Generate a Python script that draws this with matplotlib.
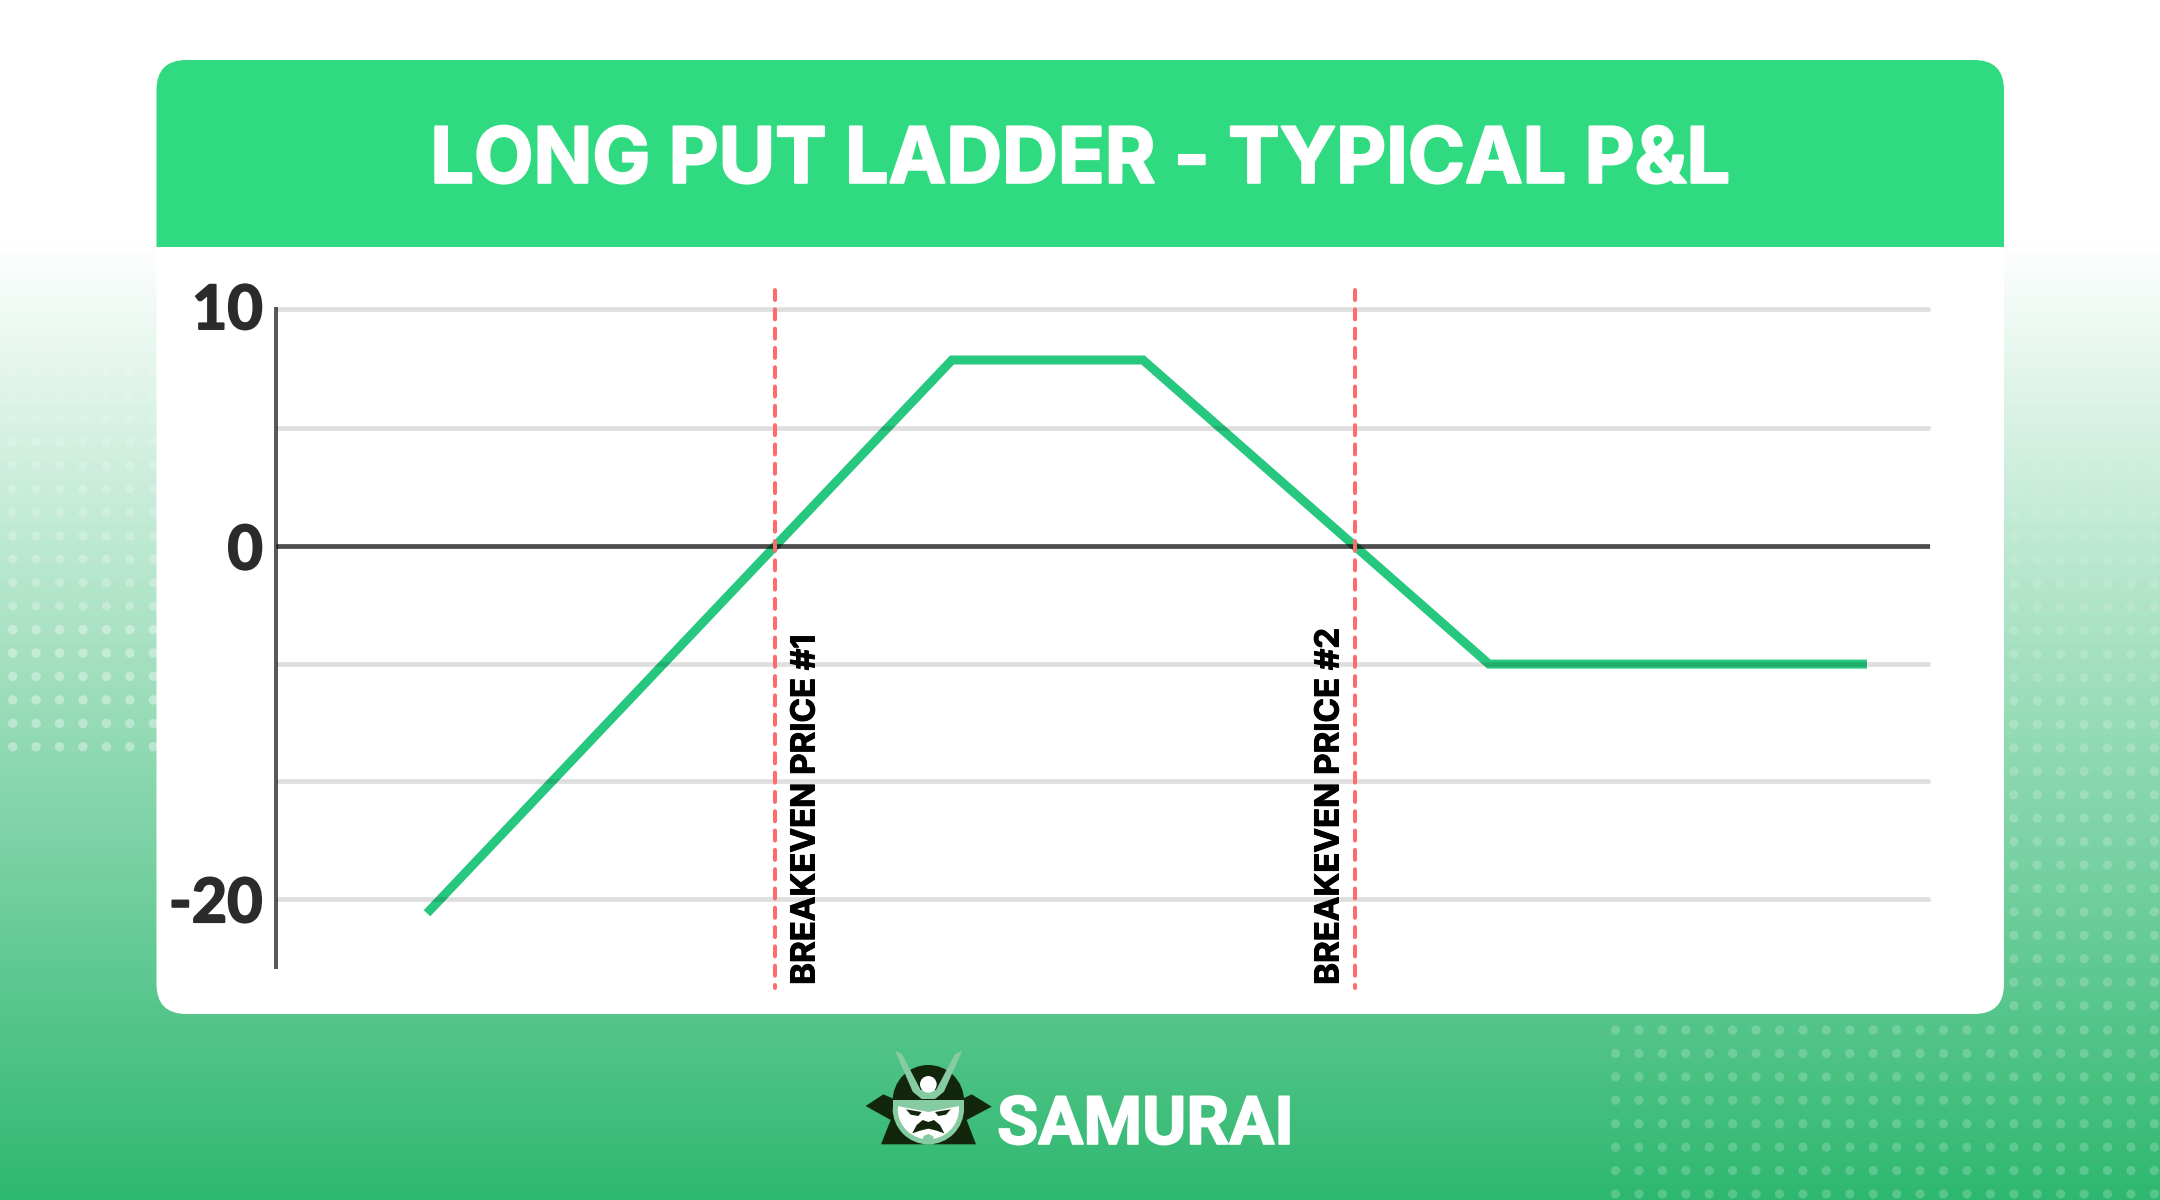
import numpy as np
import matplotlib
matplotlib.use("Agg")
import matplotlib.pyplot as plt
import matplotlib.patheffects as pe
from matplotlib.patches import FancyBboxPatch, Rectangle, Polygon, Circle, Wedge
from matplotlib.colors import LinearSegmentedColormap
from matplotlib.transforms import ScaledTranslation

# ---- data ----
price = [151, 499, 676, 867, 1079, 1213, 1591]
pnl = [-20.8, 0, 7.85, 7.85, 0, -6.68, -6.68]
breakevens = [499, 1079]
breakeven_labels = ["BREAKEVEN PRICE #1", "BREAKEVEN PRICE #2"]
grid_values = [10, 5, 0, -20 / 3, -40 / 3, -20]
grid_labels = ["10", "", "0", "", "", "-20"]
title = "LONG PUT LADDER - TYPICAL P&L"
brand = "SAMURAI"

PX = 0.72  # points per pixel at dpi 100
W, H = 2160, 1200
fig = plt.figure(figsize=(W / 100, H / 100), dpi=100)

# ---- background canvas in pixel coordinates ----
bg = fig.add_axes([0, 0, 1, 1])
bg.set_xlim(0, W)
bg.set_ylim(H, 0)
bg.axis("off")
cmap = LinearSegmentedColormap.from_list("bg", ["#FFFFFF", "#2EB86F"])
grad = np.clip((np.arange(H) - 240) / (H - 240), 0, 1).reshape(-1, 1)
bg.imshow(grad, cmap=cmap, extent=(0, W, H, 0), aspect="auto", zorder=0, vmin=0, vmax=1)


def dots(xs, ys, r, alphas):
    for yy, a in zip(ys, alphas):
        for xx in xs:
            bg.add_patch(Circle((xx, yy), r, fc="white", ec="none", alpha=a, zorder=1))


STEP = 23.43
left_x = 12.7 + STEP * np.arange(7)
upper_rows = 325 + STEP * np.arange(13)
dots(left_x, upper_rows, 4.5, np.linspace(0.12, 0.28, 13))
lower_rows = 325 + STEP * np.arange(13, 19)
dots(left_x, lower_rows, 4.7, [0.36] * 6)
right_x = 1615.5 + STEP * np.arange(24)
right_rows = 466.7 + STEP * np.arange(24)
dots(right_x[17:], right_rows, 4.6, np.clip(np.linspace(0.08, 0.32, 24), 0, 0.2))
dots(right_x, 1030 + STEP * np.arange(8), 4.6, [0.2] * 8)

# ---- card and header ----
bg.add_patch(FancyBboxPatch((156.5, 60), 1847.5, 954, boxstyle="round,pad=0,rounding_size=30",
                            fc="white", ec="none", zorder=2))
hdr = FancyBboxPatch((156.5, 60), 1847.5, 400, boxstyle="round,pad=0,rounding_size=30",
                     fc="#2FDA80", ec="none", zorder=3)
bg.add_patch(hdr)
hdr.set_clip_path(Rectangle((150, 50), 1860, 196.7, transform=bg.transData))
bg.text(1080.5, 182.7, title, color="white", fontsize=55.6, fontweight="bold",
        family="Inter", ha="center", va="baseline", zorder=4,
        path_effects=[pe.withStroke(linewidth=1.6, foreground="white")])


# ---- logo ----
def L(X, Y):
    return (820 + X / 3, 1030 + Y / 3)


def poly(points, color, z):
    bg.add_patch(Polygon([L(*p) for p in points], closed=True, fc=color, ec="none", zorder=z))


DARK, LIGHT = "#11260A", "#86CBA2"
poly([(137, 228), (190, 193), (240, 215), (410, 215), (455, 193), (515, 230), (440, 270),
      (468, 343), (183, 343), (212, 270)], DARK, 5)
bg.add_patch(Wedge(L(325, 212), 107 / 3, 180, 360, fc=DARK, ec="none", zorder=5))
bg.add_patch(Wedge(L(325, 236), 107 / 3, 0, 180, fc=LIGHT, ec="none", zorder=6))
poly([(218, 210), (432, 210), (432, 240), (218, 240)], LIGHT, 6)
bg.add_patch(Wedge(L(325, 236), 92 / 3, 0, 180, fc="white", ec="none", zorder=7))
poly([(233, 218), (417, 218), (417, 238), (233, 238)], "white", 7)
poly([(225, 212), (425, 212), (418, 228), (325, 246), (232, 228)], LIGHT, 8)
poly([(258, 238), (305, 246), (295, 258), (272, 254)], DARK, 9)
poly([(392, 238), (345, 246), (355, 258), (378, 254)], DARK, 9)
poly([(277, 310), (290, 285), (308, 270), (325, 276), (342, 270), (360, 285), (373, 310),
      (350, 302), (325, 296), (300, 302)], DARK, 9)
poly([(308, 343), (310, 318), (325, 312), (340, 318), (342, 343)], LIGHT, 9)
poly([(225, 62), (246, 72), (302, 180), (348, 180), (405, 72), (427, 62), (372, 185),
      (345, 207), (305, 207), (278, 185)], LIGHT, 9)
bg.add_patch(Circle(L(325, 163), 25 / 3, fc="white", ec="none", zorder=10))
bg.text(997, 1144, brand, color="white", fontsize=48.3, fontweight="bold", family="Roboto",
        ha="left", va="baseline", zorder=5,
        path_effects=[pe.withStroke(linewidth=1.2, foreground="white")])

# ---- chart ----
left, right, top, bottom = 276, 1930, 309, 966.7
ax = fig.add_axes([left / W, 1 - bottom / H, (right - left) / W, (bottom - top) / H])
ax.patch.set_visible(False)
NEG = 0.7438


def fwd(y):
    y = np.asarray(y, dtype=float)
    return np.where(y >= 0, y, y * NEG)


def inv(y):
    y = np.asarray(y, dtype=float)
    return np.where(y >= 0, y, y / NEG)


ax.set_yscale("function", functions=(fwd, inv))
ax.set_xlim(0, right - left)
ax.set_ylim(-23.83, 10)
ax.set_xticks([])
ax.set_yticks(grid_values)
ax.set_yticklabels(grid_labels)
ax.minorticks_off()
ax.tick_params(axis="y", length=0, pad=9.5, labelsize=44, labelcolor="#2B2B2B")
for lab, val in zip(ax.get_yticklabels(), grid_values):
    lab.set_family("Lato")
    lab.set_fontweight("bold")
    lab.set_path_effects([pe.withStroke(linewidth=1.4, foreground="#2B2B2B")])
    if val == 10:
        lab.set_transform(lab.get_transform() + ScaledTranslation(0, 3 / 100, fig.dpi_scale_trans))
for s in ("top", "right", "bottom"):
    ax.spines[s].set_visible(False)
ax.spines["left"].set_color("#5A5A5A")
ax.spines["left"].set_linewidth(4 * PX)

ax.set_axisbelow(False)
ax.grid(axis="y", color="black", alpha=0.13, linewidth=4.7 * PX, zorder=2.5)
for g in ax.get_ygridlines():
    g.set_clip_on(False)
    g.set_solid_capstyle("butt")

ax.plot(price, pnl, color="#26C77F", linewidth=9 * PX, solid_joinstyle="miter",
        solid_capstyle="butt", zorder=2, clip_on=False)
ax.axhline(0, color="black", alpha=0.65, linewidth=4.7 * PX, zorder=3, solid_capstyle="butt")

lw_dash = 4 * PX
for xb, text, xt in zip(breakevens, breakeven_labels, (530, 1054)):
    ax.plot([xb, xb], [10.8, -25.03], color="#FF6B6B", linewidth=lw_dash,
            linestyle=(0, (7.2 / lw_dash, 6.7 / lw_dash)), dash_capstyle="round",
            zorder=4, clip_on=False)
    ax.text(xt, -24.86, text, rotation=90, ha="center", va="bottom", color="black",
            fontsize=23.8, fontweight="bold", family="Inter", zorder=5, clip_on=False,
            path_effects=[pe.withStroke(linewidth=0.7, foreground="black")])

fig.savefig("out.png", dpi=100)
